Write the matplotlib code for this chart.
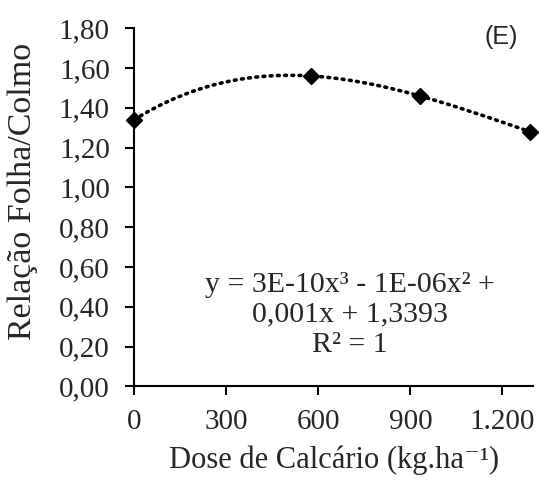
import numpy as np
import matplotlib.pyplot as plt

# doses de calcário (kg/ha) e relação folha/colmo
dose = [0, 575, 930, 1290]
relacao = [1.34, 1.56, 1.46, 1.28]
xticks = [0, 300, 600, 900, 1200]
xlabels = ['0', '300', '600', '900', '1.200']
yticks = [0.0, 0.2, 0.4, 0.6, 0.8, 1.0, 1.2, 1.4, 1.6, 1.8]
ylabels = ['0,00', '0,20', '0,40', '0,60', '0,80', '1,00', '1,20', '1,40', '1,60', '1,80']

plt.rcParams['font.family'] = ['Liberation Serif', 'DejaVu Serif']
txt = '#262626'

fig = plt.figure(figsize=(5.39, 4.86), dpi=100)
ax = fig.add_axes([0.249, 0.205, 0.74, 0.737])

# polinômio de 3o grau passando pelos pontos
coef = np.polyfit(dose, relacao, 3)
xs = np.linspace(0, max(dose), 200)
ax.plot(xs, np.polyval(coef, xs), color='black', lw=2.6,
        linestyle=(0, (0.5, 1.5)), dash_capstyle='round', zorder=2)
ax.plot(dose, relacao, 'D', color='black', ms=8, zorder=3, clip_on=False)

ax.set_xlim(0, 1300)
ax.set_ylim(0, 1.8)
ax.set_xticks(xticks)
ax.set_xticklabels(xlabels)
ax.set_yticks(yticks)
ax.set_yticklabels(ylabels)
ax.tick_params(axis='both', direction='out', length=6.5, width=1.5, colors='black',
               labelsize=21, labelcolor=txt)
ax.tick_params(axis='y', pad=11)
ax.tick_params(axis='x', pad=10)
for s in ['top', 'right']:
    ax.spines[s].set_visible(False)
for s in ['left', 'bottom']:
    ax.spines[s].set_linewidth(1.5)

ax.set_xlabel('Dose de Calcário (kg.ha⁻¹)', fontsize=22, color=txt, labelpad=7)
ax.set_ylabel('Relação Folha/Colmo', fontsize=24.5, color=txt)
ax.yaxis.set_label_coords(-0.24, 0.545)

ax.text(0.54, 0.20, 'y = 3E-10x³ - 1E-06x² +\n0,001x + 1,3393\nR² = 1',
        transform=ax.transAxes, ha='center', va='center', fontsize=21.5,
        color=txt, linespacing=1.2)
ax.text(0.92, 0.975, '(E)', transform=ax.transAxes, ha='center', va='center',
        fontsize=18, color=txt, family='Liberation Sans')

fig.savefig('out.png', dpi=100)
